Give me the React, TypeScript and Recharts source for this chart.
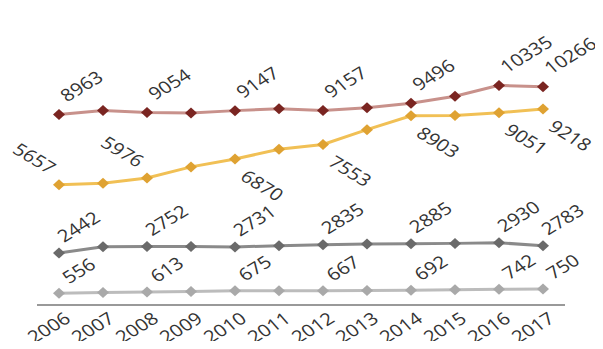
import React from 'react';
import { LineChart, Line, XAxis, YAxis, LabelList } from 'recharts';

const years = ['2006', '2007', '2008', '2009', '2010', '2011', '2012', '2013', '2014', '2015', '2016', '2017'];
const redSeries = [8963, 9150, 9054, 9040, 9147, 9235, 9157, 9280, 9496, 9826, 10335, 10266];
const yellowSeries = [5657, 5735, 5976, 6500, 6870, 7330, 7553, 8250, 8903, 8920, 9051, 9218];
const greySeries = [2442, 2740, 2752, 2750, 2731, 2790, 2835, 2870, 2885, 2900, 2930, 2783];
const lightSeries = [556, 590, 613, 640, 675, 670, 667, 680, 692, 715, 742, 750];

const data = years.map((year, i) => ({
  year,
  red: redSeries[i],
  yellow: yellowSeries[i],
  grey: greySeries[i],
  light: lightSeries[i],
}));

const FONT = '"Open Sans", sans-serif';
const LABEL_SIZE = 17;
const STRETCH = 1.2;
const TILT = 36;

const showLabel = (index: number) => index % 2 === 0 || index === years.length - 1;

const diamond = (fill: string) => (props: any) => {
  const { cx, cy, index } = props;
  if (cx == null || cy == null) return <g key={index} />;
  return (
    <path
      key={index}
      d={`M${cx},${cy - 5.5} L${cx + 6},${cy} L${cx},${cy + 5.5} L${cx - 6},${cy} Z`}
      fill={fill}
    />
  );
};

const slanted = (x: number, y: number, angle: number, anchor: string, value: any) => (
  <text
    transform={`translate(${x},${y}) scale(${STRETCH},1) rotate(${angle})`}
    fontSize={LABEL_SIZE}
    fontFamily={FONT}
    fill="#333"
    textAnchor={anchor}
  >
    {value}
  </text>
);

// labels above the line, tilted up
const upLabel = (dx: number, dy: number) => (props: any) => {
  const { x, y, value, index } = props;
  if (!showLabel(index)) return null;
  return slanted(x + dx, y + dy, -TILT, 'start', value);
};

// yellow labels: first two sit up-left, the rest hang below-right
const yellowLabel = (props: any) => {
  const { x, y, value, index } = props;
  if (!showLabel(index)) return null;
  if (index < 3) return slanted(x - 10, y - 10, TILT, 'end', value);
  return slanted(x + 4, y + 20, TILT, 'start', value);
};

const YearTick = (props: any) => {
  const { x, y, payload } = props;
  return slanted(x + 13, y + 8, -TILT, 'end', payload.value);
};

export default function App() {
  return (
    <div style={{ position: 'relative', width: 587, height: 333 }}>
      <div
        style={{
          position: 'absolute',
          left: 4,
          top: -21,
          fontFamily: FONT,
          fontWeight: 700,
          fontSize: 16,
          color: '#111',
          whiteSpace: 'nowrap',
        }}
      >
        entre 2006 et 2017
      </div>
      <LineChart width={587} height={333} data={data} margin={{ top: 42, right: 30, bottom: 6, left: 29 }}>
        <XAxis
          dataKey="year"
          padding={{ left: 22, right: 22 }}
          axisLine={{ stroke: '#777', strokeWidth: 1.5 }}
          tickLine={false}
          tick={<YearTick />}
          interval={0}
          height={30}
        />
        <YAxis hide domain={[0, 12000]} />
        <Line dataKey="red" stroke="#c8918b" strokeWidth={3} dot={diamond('#7a2521')} isAnimationActive={false}>
          <LabelList dataKey="red" content={upLabel(8, -12)} />
        </Line>
        <Line dataKey="yellow" stroke="#f1c055" strokeWidth={3} dot={diamond('#dfa232')} isAnimationActive={false}>
          <LabelList dataKey="yellow" content={yellowLabel} />
        </Line>
        <Line dataKey="grey" stroke="#8a8a8a" strokeWidth={3} dot={diamond('#6a6a6a')} isAnimationActive={false}>
          <LabelList dataKey="grey" content={upLabel(5, -10)} />
        </Line>
        <Line dataKey="light" stroke="#bcbcbc" strokeWidth={3} dot={diamond('#a9a9a9')} isAnimationActive={false}>
          <LabelList dataKey="light" content={upLabel(10, -9)} />
        </Line>
      </LineChart>
    </div>
  );
}
